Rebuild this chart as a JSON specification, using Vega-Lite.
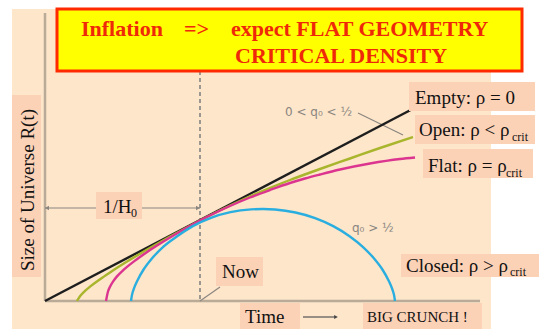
{
  "$schema": "https://vega.github.io/schema/vega-lite/v6.json",
  "width": 539,
  "height": 329,
  "autosize": {"type": "fit", "contains": "padding"},
  "padding": 0,
  "background": "#ffffff",
  "config": {"view": {"stroke": null}},
  "datasets": {
    "panel": [{"x": 12, "x2": 491, "y": 9, "y2": 329}],
    "boxes": [
      {"box": "ytitle", "x": 12, "x2": 41, "y": 95, "y2": 277},
      {"box": "hubble", "x": 96, "x2": 142, "y": 192, "y2": 219},
      {"box": "now", "x": 216, "x2": 263, "y": 257, "y2": 286},
      {"box": "time", "x": 240, "x2": 300, "y": 303, "y2": 329},
      {"box": "crunch", "x": 363, "x2": 482, "y": 303, "y2": 329},
      {"box": "closed", "x": 401, "x2": 539, "y": 254, "y2": 277},
      {"box": "empty", "x": 409, "x2": 535, "y": 82, "y2": 111},
      {"box": "open", "x": 415, "x2": 535, "y": 115, "y2": 144},
      {"box": "flat", "x": 423, "x2": 533, "y": 149, "y2": 178}
    ],
    "titlebox": [{"x": 57, "x2": 522, "y": 9, "y2": 71}],
    "axes": [
      {"axis": "R", "x": 45, "x2": 45, "y": 13, "y2": 301},
      {"axis": "t", "x": 45, "x2": 480, "y": 301, "y2": 301}
    ],
    "now": [{"x": 200, "x2": 200, "y": 71, "y2": 301}],
    "guides": [
      {"guide": "hubble time", "x": 45, "x2": 200, "y": 208, "y2": 208},
      {"guide": "now pointer", "x": 220, "x2": 200, "y": 287, "y2": 301},
      {"guide": "q0 pointer", "x": 358, "x2": 403, "y": 113, "y2": 135}
    ],
    "timearrow": [{"x": 303, "x2": 335, "y": 317, "y2": 317}],
    "heads": [
      {"end": "left", "x": 47, "y": 208},
      {"end": "right", "x": 198, "y": 208}
    ],
    "timehead": [{"end": "right", "x": 336, "y": 317}],
    "curves": [
      {"model": "Empty", "i": 0, "x": 45, "y": 301},
      {"model": "Empty", "i": 1, "x": 413, "y": 108.7},
      {"model": "Open", "i": 0, "x": 77, "y": 301},
      {"model": "Open", "i": 1, "x": 80, "y": 296.2},
      {"model": "Open", "i": 2, "x": 85, "y": 290.9},
      {"model": "Open", "i": 3, "x": 90, "y": 286.6},
      {"model": "Open", "i": 4, "x": 100, "y": 279.2},
      {"model": "Open", "i": 5, "x": 110, "y": 272.4},
      {"model": "Open", "i": 6, "x": 125, "y": 262.8},
      {"model": "Open", "i": 7, "x": 140, "y": 253.7},
      {"model": "Open", "i": 8, "x": 155, "y": 245.0},
      {"model": "Open", "i": 9, "x": 170, "y": 236.6},
      {"model": "Open", "i": 10, "x": 185, "y": 228.45},
      {"model": "Open", "i": 11, "x": 200, "y": 220.5},
      {"model": "Open", "i": 12, "x": 230, "y": 205.5},
      {"model": "Open", "i": 13, "x": 260, "y": 192},
      {"model": "Open", "i": 14, "x": 290, "y": 180},
      {"model": "Open", "i": 15, "x": 320, "y": 169},
      {"model": "Open", "i": 16, "x": 350, "y": 158.5},
      {"model": "Open", "i": 17, "x": 380, "y": 148},
      {"model": "Open", "i": 18, "x": 413, "y": 137},
      {"model": "Flat", "i": 0, "x": 106, "y": 301},
      {"model": "Flat", "i": 1, "x": 108, "y": 291.5},
      {"model": "Flat", "i": 2, "x": 110, "y": 286.7},
      {"model": "Flat", "i": 3, "x": 113, "y": 281.6},
      {"model": "Flat", "i": 4, "x": 117, "y": 276.4},
      {"model": "Flat", "i": 5, "x": 122, "y": 271.3},
      {"model": "Flat", "i": 6, "x": 127, "y": 266.9},
      {"model": "Flat", "i": 7, "x": 135, "y": 260.6},
      {"model": "Flat", "i": 8, "x": 145, "y": 253.5},
      {"model": "Flat", "i": 9, "x": 157, "y": 245.6},
      {"model": "Flat", "i": 10, "x": 170, "y": 237.55},
      {"model": "Flat", "i": 11, "x": 185, "y": 228.75},
      {"model": "Flat", "i": 12, "x": 200, "y": 220.5},
      {"model": "Flat", "i": 13, "x": 215, "y": 213},
      {"model": "Flat", "i": 14, "x": 230, "y": 206},
      {"model": "Flat", "i": 15, "x": 250, "y": 197.5},
      {"model": "Flat", "i": 16, "x": 270, "y": 190},
      {"model": "Flat", "i": 17, "x": 290, "y": 183},
      {"model": "Flat", "i": 18, "x": 305, "y": 178.5},
      {"model": "Flat", "i": 19, "x": 320, "y": 174.5},
      {"model": "Flat", "i": 20, "x": 340, "y": 169.5},
      {"model": "Flat", "i": 21, "x": 370, "y": 163.5},
      {"model": "Flat", "i": 22, "x": 400, "y": 159},
      {"model": "Flat", "i": 23, "x": 415, "y": 157.5},
      {"model": "Closed", "i": 0, "x": 131, "y": 301},
      {"model": "Closed", "i": 1, "x": 131.9, "y": 295.4},
      {"model": "Closed", "i": 2, "x": 133.9, "y": 288.7},
      {"model": "Closed", "i": 3, "x": 137.7, "y": 279.9},
      {"model": "Closed", "i": 4, "x": 143.6, "y": 269.5},
      {"model": "Closed", "i": 5, "x": 152.1, "y": 258.3},
      {"model": "Closed", "i": 6, "x": 163.2, "y": 246.8},
      {"model": "Closed", "i": 7, "x": 176.8, "y": 236.5},
      {"model": "Closed", "i": 8, "x": 192.8, "y": 226.1},
      {"model": "Closed", "i": 9, "x": 210.9, "y": 217.8},
      {"model": "Closed", "i": 10, "x": 230.5, "y": 212.2},
      {"model": "Closed", "i": 11, "x": 251.1, "y": 209.4},
      {"model": "Closed", "i": 12, "x": 263, "y": 209},
      {"model": "Closed", "i": 13, "x": 274.9, "y": 209.5},
      {"model": "Closed", "i": 14, "x": 295.5, "y": 212.5},
      {"model": "Closed", "i": 15, "x": 315.1, "y": 218.1},
      {"model": "Closed", "i": 16, "x": 333.2, "y": 226.1},
      {"model": "Closed", "i": 17, "x": 349.2, "y": 235.9},
      {"model": "Closed", "i": 18, "x": 362.8, "y": 246.8},
      {"model": "Closed", "i": 19, "x": 373.9, "y": 258.3},
      {"model": "Closed", "i": 20, "x": 382.4, "y": 269.5},
      {"model": "Closed", "i": 21, "x": 388.3, "y": 279.9},
      {"model": "Closed", "i": 22, "x": 392.1, "y": 288.7},
      {"model": "Closed", "i": 23, "x": 394.1, "y": 295.4},
      {"model": "Closed", "i": 24, "x": 395, "y": 301}
    ],
    "labels": [
      {"text": "Empty: ρ = 0", "x": 415, "y": 104},
      {"text": "Open: ρ < ρ", "x": 419, "y": 136},
      {"text": "Flat: ρ = ρ", "x": 428, "y": 172},
      {"text": "Closed:  ρ > ρ", "x": 406, "y": 272},
      {"text": "1/H", "x": 103, "y": 213},
      {"text": "Now", "x": 222, "y": 278},
      {"text": "Time", "x": 245, "y": 323}
    ],
    "subs": [
      {"text": "crit", "x": 512, "y": 141},
      {"text": "crit", "x": 506, "y": 177},
      {"text": "crit", "x": 510, "y": 276},
      {"text": "0", "x": 131, "y": 217}
    ],
    "crunch": [{"text": "BIG CRUNCH !", "x": 367, "y": 322}],
    "ytitle": [{"text": "Size of Universe  R(t)", "x": 28, "y": 190}],
    "title": [
      {"text": "Inflation", "x": 81, "y": 36},
      {"text": "=>", "x": 184, "y": 36},
      {"text": "expect FLAT GEOMETRY", "x": 231, "y": 36},
      {"text": "CRITICAL DENSITY", "x": 235, "y": 63}
    ],
    "notes": [
      {"text": "0 < q₀ < ½", "x": 285, "y": 112},
      {"text": "q₀ > ½", "x": 352, "y": 228}
    ]
  },
  "encoding": {
    "x": {"field": "x", "type": "quantitative", "scale": {"domain": [0, 539], "nice": false, "zero": false}, "axis": null},
    "y": {"field": "y", "type": "quantitative", "scale": {"domain": [0, 329], "nice": false, "zero": false, "reverse": true}, "axis": null}
  },
  "layer": [
    {"data": {"name": "panel"}, "mark": {"type": "rect", "fill": "#fde6ca"}, "encoding": {"x2": {"field": "x2"}, "y2": {"field": "y2"}}},
    {"data": {"name": "axes"}, "mark": {"type": "rule", "color": "#b9ab98", "strokeWidth": 2.5}, "encoding": {"x2": {"field": "x2"}, "y2": {"field": "y2"}}},
    {"data": {"name": "now"}, "mark": {"type": "rule", "color": "#9c9890", "strokeWidth": 2, "strokeDash": [4, 3]}, "encoding": {"x2": {"field": "x2"}, "y2": {"field": "y2"}}},
    {"data": {"name": "guides"}, "mark": {"type": "rule", "color": "#8c8680", "strokeWidth": 1.2}, "encoding": {"x2": {"field": "x2"}, "y2": {"field": "y2"}}},
    {"data": {"name": "heads"}, "mark": {"type": "point", "filled": true, "color": "#8c8680", "size": 22, "opacity": 1},
      "encoding": {"shape": {"field": "end", "type": "nominal", "scale": {"domain": ["left", "right"], "range": ["triangle-left", "triangle-right"]}, "legend": null}}},
    {"data": {"name": "timearrow"}, "mark": {"type": "rule", "color": "#555555", "strokeWidth": 1.2}, "encoding": {"x2": {"field": "x2"}, "y2": {"field": "y2"}}},
    {"data": {"name": "timehead"}, "mark": {"type": "point", "filled": true, "color": "#444444", "size": 18, "opacity": 1, "shape": "triangle-right"}},
    {"data": {"name": "curves"}, "mark": {"type": "line", "strokeWidth": 2.4, "interpolate": "monotone"},
      "encoding": {
        "color": {"field": "model", "type": "nominal", "scale": {"domain": ["Empty", "Open", "Flat", "Closed"], "range": ["#1e1e1e", "#a9b52c", "#dc3590", "#2aaedf"]}, "legend": null},
        "order": {"field": "i", "type": "quantitative"}
      }},
    {"data": {"name": "boxes"}, "mark": {"type": "rect", "fill": "#fcd2b7"}, "encoding": {"x2": {"field": "x2"}, "y2": {"field": "y2"}}},
    {"data": {"name": "titlebox"}, "mark": {"type": "rect", "fill": "#ffff00", "stroke": "#ff2a00", "strokeWidth": 3}, "encoding": {"x2": {"field": "x2"}, "y2": {"field": "y2"}}},
    {"data": {"name": "labels"}, "mark": {"type": "text", "font": "Liberation Serif", "fontSize": 19, "align": "left", "baseline": "alphabetic", "color": "#111111"}, "encoding": {"text": {"field": "text"}}},
    {"data": {"name": "subs"}, "mark": {"type": "text", "font": "Liberation Serif", "fontSize": 12, "align": "left", "baseline": "alphabetic", "color": "#111111"}, "encoding": {"text": {"field": "text"}}},
    {"data": {"name": "crunch"}, "mark": {"type": "text", "font": "Liberation Serif", "fontSize": 15, "align": "left", "baseline": "alphabetic", "color": "#111111"}, "encoding": {"text": {"field": "text"}}},
    {"data": {"name": "ytitle"}, "mark": {"type": "text", "font": "Liberation Serif", "fontSize": 19, "align": "center", "baseline": "middle", "angle": 270, "color": "#111111"}, "encoding": {"text": {"field": "text"}}},
    {"data": {"name": "title"}, "mark": {"type": "text", "font": "Liberation Serif", "fontSize": 22, "fontWeight": "bold", "align": "left", "baseline": "alphabetic", "color": "#f0280a"}, "encoding": {"text": {"field": "text"}}},
    {"data": {"name": "notes"}, "mark": {"type": "text", "font": "DejaVu Sans", "fontSize": 12, "align": "left", "baseline": "middle", "color": "#8a8580"}, "encoding": {"text": {"field": "text"}}}
  ]
}
